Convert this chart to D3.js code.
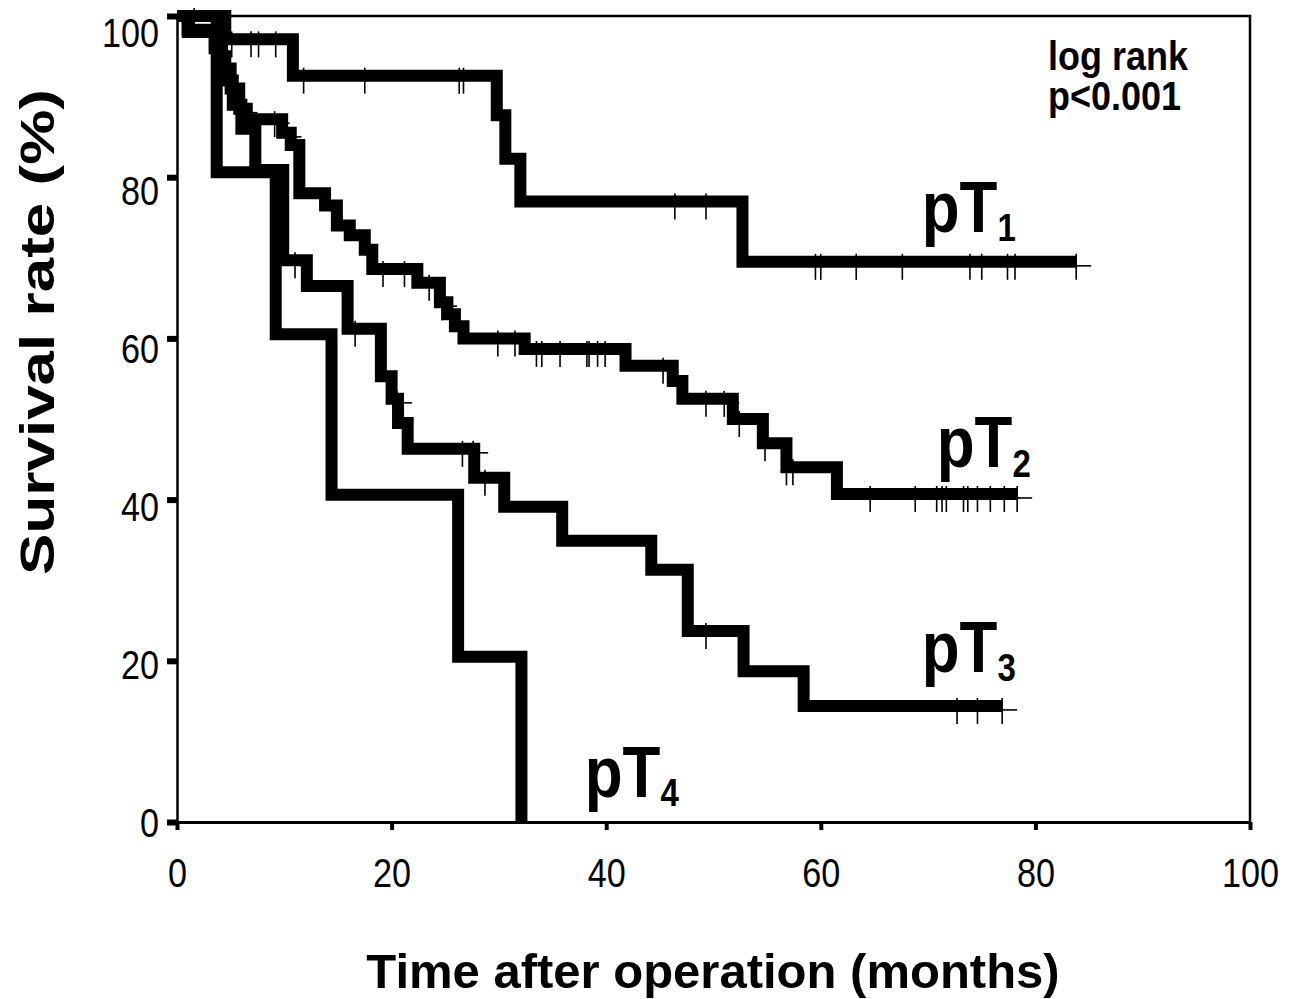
<!DOCTYPE html>
<html>
<head>
<meta charset="utf-8">
<script src="https://cdn.jsdelivr.net/npm/d3@7"></script>
<style>
  body { margin: 0; background: #fff; }
  text { font-family: "Liberation Sans", Arial, sans-serif; fill: #000; }
</style>
</head>
<body>
<svg id="chart" width="1291" height="999"></svg>
<script>
// step points [month, survival %]
var pT1Steps = [[0,100],[4.5,97.1],[10.8,92.6],[29.8,87.7],[30.6,82.3],[32.0,77.0],[52.7,69.5]];
var pT1Censor = [1.6,5.1,6.9,7.6,9.2,11.8,17.5,26.3,26.7,46.4,49.3,59.5,60.0,63.3,67.6,73.9,75.0,77.4,78.1,83.8];

var pT2Steps = [[0,100],[1,98.3],[3.5,96],[4.2,93.5],[5.0,91],[5.8,88.5],[6.5,87.2],[9.8,85.5],[10.6,84],
  [11.4,78],[13.8,76.5],[14.9,74],[16.1,72.8],[17.5,71],[18.2,68.6],[22.4,66.9],[24.5,64.5],[25.2,63],
  [25.9,61.5],[26.7,60.0],[32.4,58.7],[41.8,56.6],[46.2,54.7],[47.1,52.5],[51.8,50.0],[54.6,47.0],
  [56.8,44.0],[61.5,40.7]];
var pT2Censor = [6.1,7.0,9.1,10.2,19.2,21.2,23.5,24.7,29.9,31.5,33.5,34.0,35.7,38.2,38.4,39.2,39.9,45.3,
  49.3,51.0,52.4,54.8,56.8,57.4,64.6,68.8,70.8,71.3,71.7,73.3,73.7,74.6,75.8,77.1,78.3];

var pT3Steps = [[0,100],[1,98],[3.8,95],[4.5,92],[5.2,89],[6.0,86],[7.3,80.9],[9.9,69.7],[12.1,66.5],
  [15.9,61.2],[19.0,55.3],[20.0,52.5],[20.6,49.5],[21.5,46.3],[27.7,42.7],[30.5,39.1],[35.9,34.9],
  [44.2,31.3],[47.6,23.7],[52.8,18.7],[58.4,14.4]];
var pT3Censor = [11.0,16.6,20.5,26.6,27.6,28.7,49.3,72.7,74.6,76.9];

var pT4Steps = [[0,100],[3.7,80.6],[9.2,60.5],[14.4,40.6],[26.2,20.5],[32.1,0]];
var pT4Censor = [];

var groupNames = ["1","2","3","4"];
var xTicks = [0,20,40,60,80,100];
var yTicks = [0,20,40,60,80,100];

var svg = d3.select("#chart");
var x = d3.scaleLinear().domain([0,100]).range([177,1250]);
var y = d3.scaleLinear().domain([0,100]).range([822,16]);

// frame top/right
svg.append("path")
  .attr("d", "M" + x(0) + "," + y(100) + "H" + x(100) + "V" + y(0))
  .attr("fill", "none").attr("stroke", "#000").attr("stroke-width", 2.5);

// tick labels are a bit narrow and tall in the original
var sx = 0.9, sy = 1.06;

var xAxis = svg.append("g")
  .attr("transform", "translate(0," + y(0) + ")")
  .call(d3.axisBottom(x).tickValues(xTicks).tickSize(8).tickSizeOuter(0).tickPadding(30));
xAxis.select(".domain").attr("stroke-width", 3);
xAxis.selectAll(".tick line").attr("stroke-width", 4);
xAxis.selectAll(".tick text")
  .attr("font-size", 38).attr("font-family", "Liberation Sans, Arial, sans-serif")
  .attr("y", 36 / sy).attr("dy", "0.71em")
  .attr("transform", "scale(" + sx + "," + sy + ")");

var yAxis = svg.append("g")
  .attr("transform", "translate(" + x(0) + ",0)")
  .call(d3.axisLeft(y).tickValues(yTicks).tickSize(10).tickSizeOuter(0).tickPadding(9));
yAxis.select(".domain").attr("stroke-width", 2.5);
yAxis.selectAll(".tick line").attr("stroke-width", 6);
yAxis.selectAll(".tick text")
  .attr("font-size", 38).attr("font-family", "Liberation Sans, Arial, sans-serif")
  .attr("x", -18 / sx)
  .attr("y", function (d) { return (d * 0.16 + 14) / sy; })
  .attr("dy", 0)
  .attr("transform", "scale(" + sx + "," + sy + ")");

var line = d3.line().x(function (d) { return x(d[0]); }).y(function (d) { return y(d[1]); })
  .curve(d3.curveStepAfter);

function survivalAt(steps, t) {
  var s = steps[0][1];
  steps.forEach(function (p) { if (p[0] <= t) s = p[1]; });
  return s;
}

function drawCurve(steps, censor) {
  var pts = steps.slice();
  var last = steps[steps.length - 1];
  if (censor.length && censor[censor.length - 1] > last[0]) {
    pts.push([censor[censor.length - 1], last[1]]);
  }
  svg.append("path").datum(pts)
    .attr("d", line)
    .attr("fill", "none").attr("stroke", "#000")
    .attr("stroke-width", 12).attr("stroke-linejoin", "miter").attr("stroke-linecap", "butt");

  var marks = svg.append("g").selectAll("g").data(censor).join("g")
    .attr("transform", function (t) { return "translate(" + x(t) + "," + y(survivalAt(steps, t)) + ")"; });
  marks.append("line").attr("x1", 0).attr("x2", 0).attr("y1", -8).attr("y2", 18)
    .attr("stroke", "#000").attr("stroke-width", 1.6);
  marks.append("line").attr("x1", -6).attr("x2", 15).attr("y1", 4).attr("y2", 4)
    .attr("stroke", "#000").attr("stroke-width", 1.6);
}

drawCurve(pT4Steps, pT4Censor);
drawCurve(pT3Steps, pT3Censor);
drawCurve(pT2Steps, pT2Censor);
drawCurve(pT1Steps, pT1Censor);

// curve labels, subscript as a tspan inside the same text
var labelPos = [[69.4,73.2],[70.8,44.0],[69.4,18.6],[38.0,3.1]];
groupNames.forEach(function (g, i) {
  var px = x(labelPos[i][0]), py = y(labelPos[i][1]);
  var t = svg.append("text")
    .attr("transform", "translate(" + px + "," + py + ") scale(1,1.17)")
    .attr("font-size", 62).attr("font-weight", "bold");
  t.append("tspan").text("pT");
  t.append("tspan").attr("font-size", 33).attr("dx", 0).attr("dy", 8).text(g);
});

// log rank note, two lines in one text
var note = svg.append("text").attr("transform", "translate(1048,70) scale(1,1.15)")
  .attr("font-size", 36).attr("font-weight", "bold");
note.append("tspan").attr("x", 0).text("log rank");
note.append("tspan").attr("x", 0).attr("dy", 40 / 1.15).text("p<0.001");

// axis titles
svg.append("text")
  .attr("transform", "translate(713,988)")
  .attr("text-anchor", "middle").attr("font-size", 49).attr("font-weight", "bold")
  .text("Time after operation (months)");
svg.append("text")
  .attr("transform", "translate(54,332) rotate(-90) scale(1.24,0.96)")
  .attr("text-anchor", "middle").attr("font-size", 50).attr("font-weight", "bold")
  .text("Survival rate (%)");
</script>
</body>
</html>
